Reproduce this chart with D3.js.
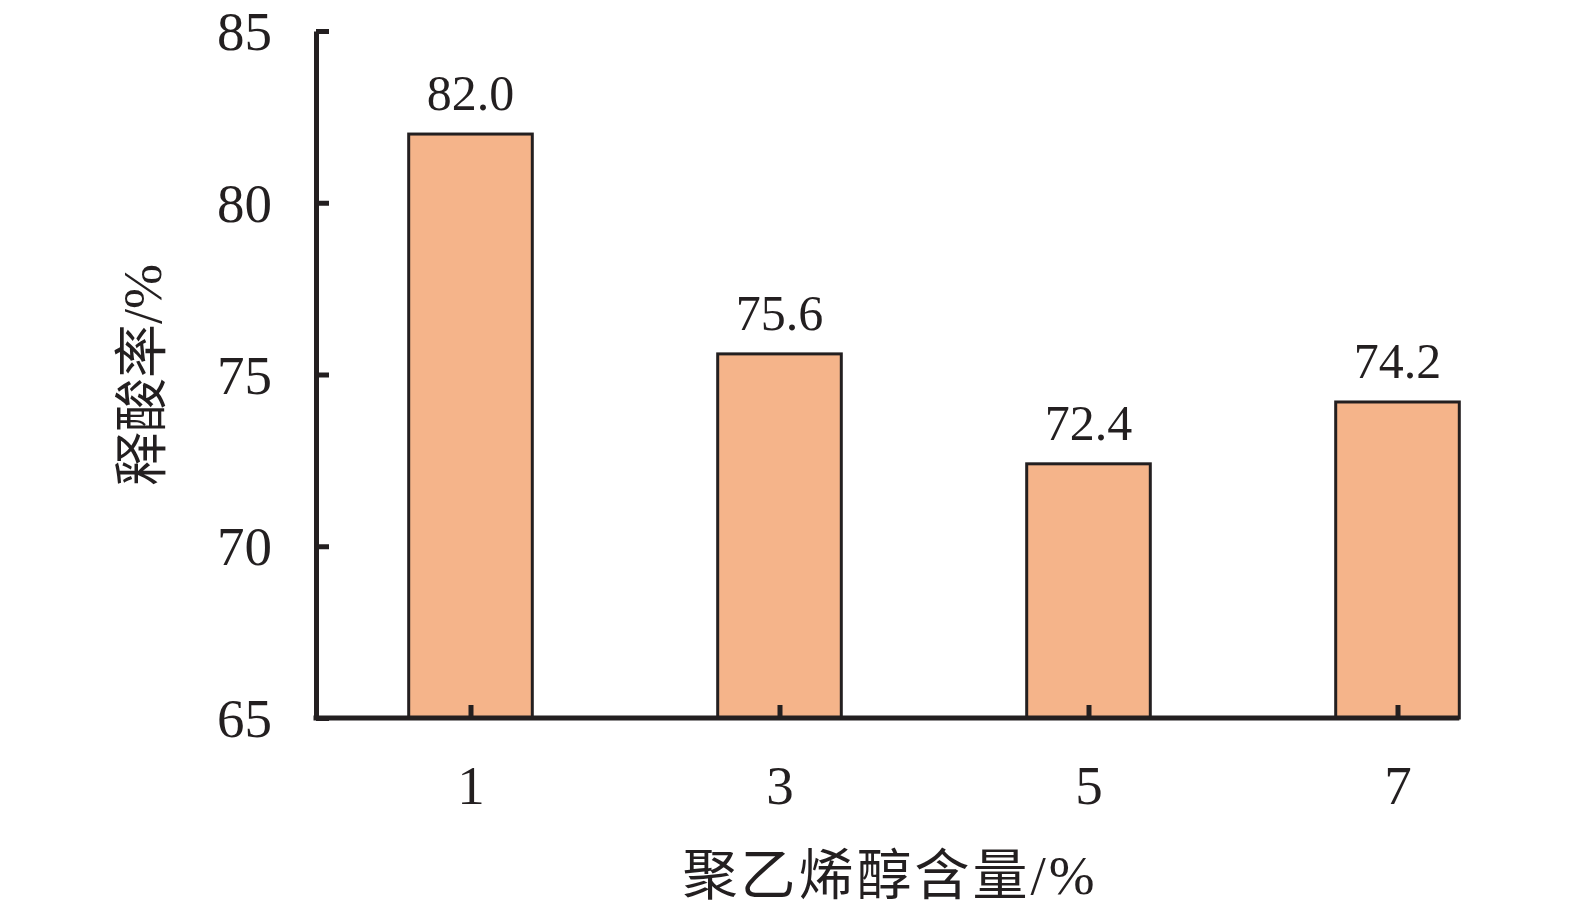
<!DOCTYPE html>
<html><head><meta charset="utf-8">
<script src="https://cdn.jsdelivr.net/npm/d3@7"></script>
<style>body{margin:0;background:#fff}svg{display:block}</style>
</head><body>
<script>
const categories = ["1","3","5","7"];
const values = [82.0, 75.6, 72.4, 74.2];
const yTicks = [65,70,75,80,85];
const xTitle = "聚乙烯醇含量/%";
const yTitle = "释酸率/%";

(function(){
const W=1575,H=912;
const svg=d3.select("body").append("svg").attr("width",W).attr("height",H);
const font="'Liberation Serif','Times New Roman','Noto Sans CJK SC',serif";
const mLeft=316, mBottom=718, mTop=31;
const x=d3.scalePoint().domain(categories).range([mLeft,mLeft+4*309]).padding(0.5);
const bw=x.step()*0.4;
const y=d3.scaleLinear().domain([65,85]).range([mBottom,mTop]);
const ink="#231F20";

svg.selectAll("rect.bar").data(values).join("rect")
 .attr("x",(d,i)=>x(categories[i])-bw/2).attr("y",d=>y(d))
 .attr("width",bw).attr("height",d=>y(65)-y(d))
 .attr("fill","#F5B48A").attr("stroke",ink).attr("stroke-width",3);

svg.selectAll("text.val").data(values).join("text")
 .attr("x",(d,i)=>x(categories[i])).attr("y",d=>y(d)-24)
 .attr("text-anchor","middle").attr("font-family",font).attr("font-size",50).attr("fill",ink)
 .text(d=>d.toFixed(1));

const ya=svg.append("g").attr("transform",`translate(${mLeft},0)`)
 .call(d3.axisLeft(y).tickValues(yTicks).tickSize(-13).tickPadding(44).tickSizeOuter(0));
ya.select(".domain").attr("stroke",ink).attr("stroke-width",5);
ya.selectAll(".tick line").attr("stroke",ink).attr("stroke-width",5);
ya.selectAll(".tick text").attr("font-family",font).attr("font-size",55).attr("fill",ink).attr("dy","0.34em");

const xEnd = x(categories[3])+bw/2;
const xa=svg.append("g").attr("transform",`translate(0,${mBottom})`)
 .call(d3.axisBottom(x).tickSize(-13).tickPadding(47).tickSizeOuter(0));
xa.select(".domain").attr("d",`M${mLeft-2.5},0H${xEnd}`).attr("stroke",ink).attr("stroke-width",5);
xa.selectAll(".tick line").attr("stroke",ink).attr("stroke-width",5);
xa.selectAll(".tick text").attr("font-family",font).attr("font-size",55).attr("fill",ink).attr("dy","0.71em");

svg.append("text").attr("x",890).attr("y",894).attr("text-anchor","middle")
 .attr("font-family",font).attr("font-size",55).attr("letter-spacing",3).attr("fill",ink).text(xTitle);
svg.append("text").attr("transform","translate(161,375) rotate(-90)").attr("text-anchor","middle")
 .attr("font-family",font).attr("font-size",54).attr("fill",ink).text(yTitle);
})();
</script>
</body></html>
